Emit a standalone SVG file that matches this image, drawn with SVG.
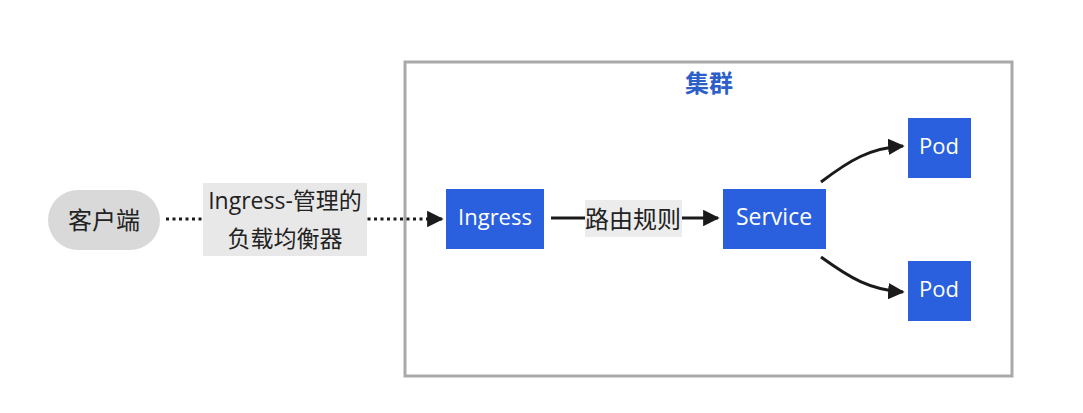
<svg xmlns="http://www.w3.org/2000/svg" width="1083" height="413" viewBox="0 0 1083 413">
  <style>
    .t { font-family: "Open Sans", "Noto Sans CJK SC", sans-serif; font-size: 22px; text-anchor: middle; dominant-baseline: central; }
    .cjk { font-size: 24px; }
    .dark { fill: #222; }
    .white { fill: #ffffff; }
    .blue { fill: #2a5fde; }
    .edge { fill: none; stroke: #1a1a1a; stroke-width: 3; }
  </style>
  <defs>
    <marker id="arrow" viewBox="0 0 10 10" refX="9" refY="5" markerWidth="5.5" markerHeight="5.5" markerUnits="strokeWidth" orient="auto">
      <path d="M0,0 L10,5 L0,10 z" fill="#1a1a1a"/>
    </marker>
  </defs>
  <rect width="1083" height="413" fill="#ffffff"/>

  <g id="cluster">
    <rect x="405" y="62" width="607" height="314" fill="#ffffff" stroke="#a9a9a9" stroke-width="3"/>
    <text class="t cjk" x="709" y="82" style="fill:#2d5fc8;font-weight:bold">集群</text>
  </g>

  <g id="connectors">
    <line class="edge" x1="166" y1="219" x2="442" y2="219" stroke-dasharray="3,3.5" stroke-width="3.5" marker-end="url(#arrow)"/>
    <line class="edge" x1="551" y1="218" x2="718" y2="218" marker-end="url(#arrow)"/>
    <path class="edge" d="M821,182 C850,160 870,148 903,146" marker-end="url(#arrow)"/>
    <path class="edge" d="M821,257 C850,278 870,290 903,292" marker-end="url(#arrow)"/>
    <g id="label-lb">
      <rect x="203" y="183" width="164" height="73" fill="#e8e8e8"/>
      <text class="t dark" x="285" y="200" style="font-size:23px">Ingress-管理的</text>
      <text class="t dark" x="285" y="238" style="font-size:23px">负载均衡器</text>
    </g>
    <g id="label-route">
      <rect x="585" y="200" width="97" height="37" fill="#ececec"/>
      <text class="t dark cjk" x="633" y="218">路由规则</text>
    </g>
  </g>

  <g id="client">
    <rect x="48" y="190" width="112" height="60" rx="30" ry="30" fill="#d9d9d9"/>
    <text class="t dark cjk" x="104" y="219">客户端</text>
  </g>

  <g id="ingress">
    <rect x="446" y="189" width="98" height="60" class="blue"/>
    <text class="t white" x="495" y="216">Ingress</text>
  </g>

  <g id="service">
    <rect x="723" y="189" width="103" height="60" class="blue"/>
    <text class="t white" x="774" y="216" style="font-size:23px">Service</text>
  </g>

  <g id="pod1">
    <rect x="908" y="118" width="63" height="60" class="blue"/>
    <text class="t white" x="939" y="145">Pod</text>
  </g>

  <g id="pod2">
    <rect x="908" y="261" width="63" height="60" class="blue"/>
    <text class="t white" x="939" y="288">Pod</text>
  </g>
</svg>
